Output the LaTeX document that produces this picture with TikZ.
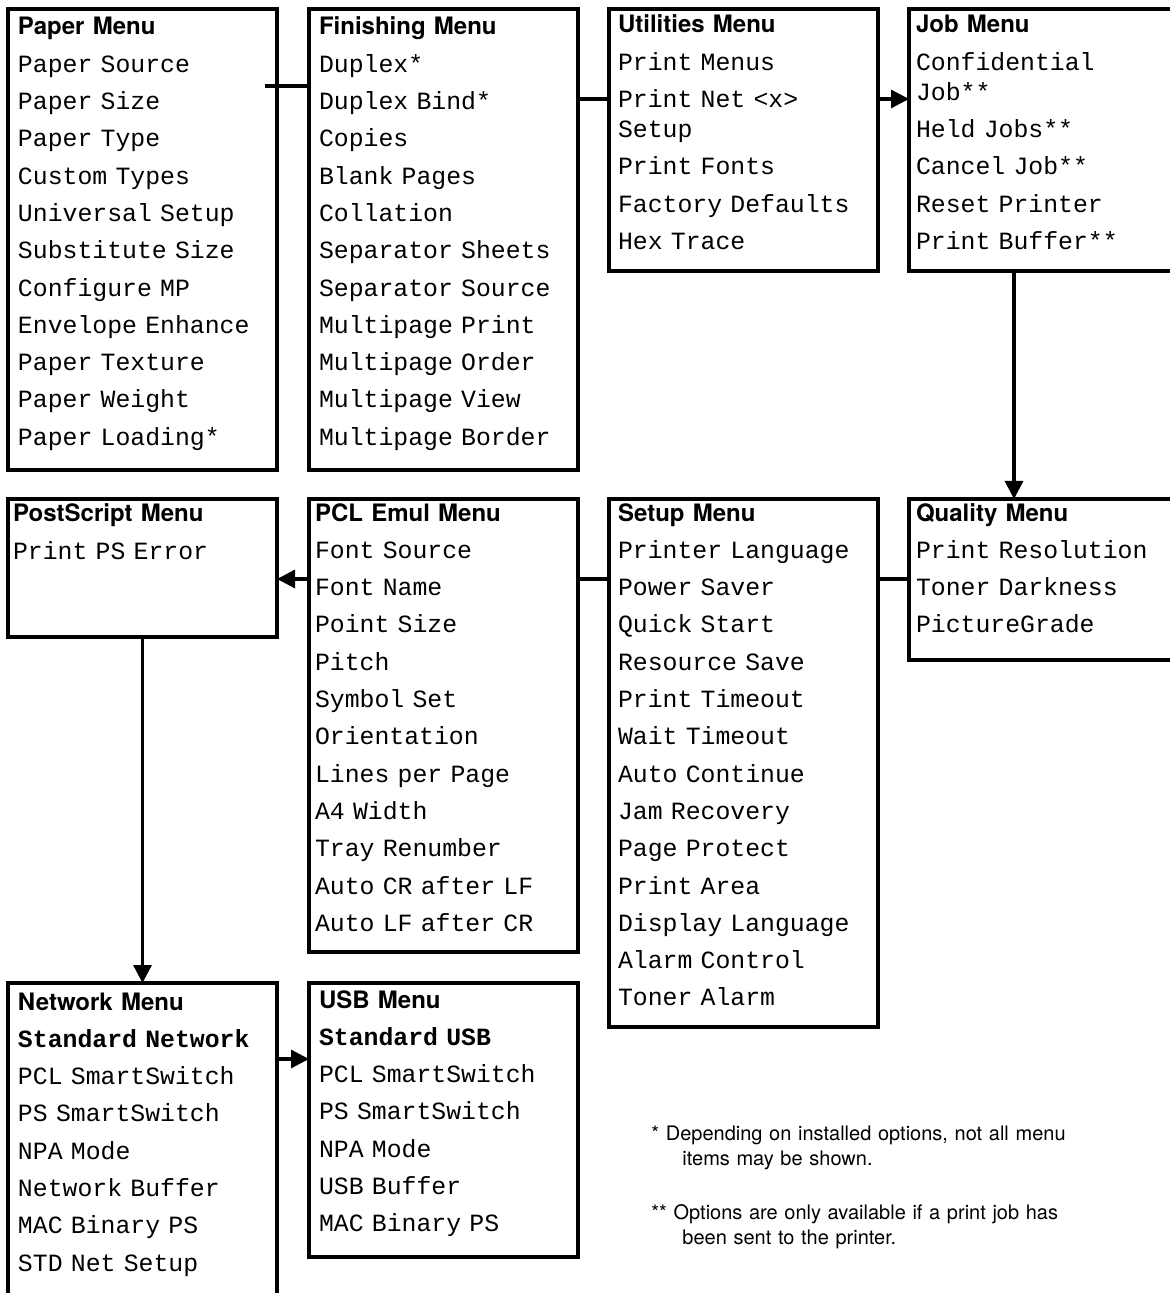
\documentclass[tikz,border=0pt]{standalone}
\usepackage{fontspec}
\usepackage{tikz}
\usetikzlibrary{arrows.meta, positioning, calc}
\setmonofont{Liberation Mono}
\newfontfamily\headfont{TeX Gyre Heros}
\newcommand{\mhead}[1]{{\headfont\bfseries\fontsize{12pt}{14pt}\selectfont #1}}

\begin{document}
\begin{tikzpicture}[x=0.5pt, y=-0.5pt,
    menu/.style={draw, line width=1.6pt, outer sep=0pt, anchor=north west, inner ysep=0pt, align=left,
                 font=\ttfamily\fontsize{12.4pt}{18.65pt}\selectfont},
    link/.style={line width=1.6pt},
    arr/.style={line width=1.6pt, -{Triangle[length=9pt, width=9pt]}},
    note/.style={anchor=base west, inner sep=0pt, align=left, text width=250pt,
                 font=\headfont\fontsize{10pt}{12.75pt}\selectfont}]
  \useasboundingbox (0,0) rectangle (1170,1293);

  % top row
  \node[menu, inner xsep=5pt, text width=124.5pt, text height=13pt, text depth=217.5pt] (paper) at (8,9)
    {\mhead{Paper Menu}\\ Paper Source\\ Paper Size\\ Paper Type\\ Custom Types\\ Universal Setup\\
     Substitute Size\\ Configure MP\\ Envelope Enhance\\ Paper Texture\\ Paper Weight\\ Paper Loading*};
  \node[menu, inner xsep=5pt, text width=124.5pt, text height=13pt, text depth=217.5pt] (finishing) at (309,9)
    {\mhead{Finishing Menu}\\ Duplex*\\ Duplex Bind*\\ Copies\\ Blank Pages\\ Collation\\
     Separator Sheets\\ Separator Source\\ Multipage Print\\ Multipage Order\\ Multipage View\\ Multipage Border};
  \node[menu, inner xsep=4.5pt, text width=125.5pt, text height=12pt, text depth=119pt] (utilities) at (609,9)
    {\mhead{Utilities Menu}\\ Print Menus\\ Print Net <x>\\[-3.65pt] Setup\\ Print Fonts\\ Factory Defaults\\ Hex Trace};
  \node[menu, inner xsep=3.5pt, text width=124.5pt, text height=12pt, text depth=119pt] (job) at (909,9)
    {\mhead{Job Menu}\\ Confidential\\[-3.65pt] Job**\\ Held Jobs**\\ Cancel Job**\\ Reset Printer\\ Print Buffer**};

  % middle row
  \node[menu, inner xsep=2.5pt, text width=129.5pt, text height=11.5pt, text depth=57.5pt] (postscript) at (8,499)
    {\mhead{PostScript Menu}\\ Print PS Error};
  \node[menu, inner xsep=3pt, text width=128.5pt, text height=11pt, text depth=215.5pt] (pcl) at (309,499)
    {\mhead{PCL Emul Menu}\\ Font Source\\ Font Name\\ Point Size\\ Pitch\\ Symbol Set\\ Orientation\\
     Lines per Page\\ A4 Width\\ Tray Renumber\\ Auto CR after LF\\ Auto LF after CR};
  \node[menu, inner xsep=4.5pt, text width=125.5pt, text height=11pt, text depth=253pt] (setup) at (609,499)
    {\mhead{Setup Menu}\\ Printer Language\\ Power Saver\\ Quick Start\\ Resource Save\\ Print Timeout\\
     Wait Timeout\\ Auto Continue\\ Jam Recovery\\ Page Protect\\ Print Area\\ Display Language\\
     Alarm Control\\ Toner Alarm};
  \node[menu, inner xsep=3.5pt, text width=124.5pt, text height=11pt, text depth=69.5pt] (quality) at (909,499)
    {\mhead{Quality Menu}\\ Print Resolution\\ Toner Darkness\\ PictureGrade};

  % bottom row
  \node[menu, inner xsep=5pt, text width=124.5pt, text height=13.5pt, text depth=145pt] (network) at (8,983)
    {\mhead{Network Menu}\\ {\bfseries Standard Network}\\ PCL SmartSwitch\\ PS SmartSwitch\\ NPA Mode\\
     Network Buffer\\ MAC Binary PS\\ STD Net Setup};
  \node[menu, inner xsep=5pt, text width=124.5pt, text height=12.5pt, text depth=124.5pt] (usb) at (309,983)
    {\mhead{USB Menu}\\ {\bfseries Standard USB}\\ PCL SmartSwitch\\ PS SmartSwitch\\ NPA Mode\\
     USB Buffer\\ MAC Binary PS};

  \node[note] (starnote) at (651,1140)
    {* Depending on installed options, not all menu\\ \hspace*{15.5pt}items may be shown.};
  \node[note] (dblnote) at (651,1219)
    {** Options are only available if a print job has\\ \hspace*{15.5pt}been sent to the printer.};

  % connectors
  \draw[link] ([xshift=-6pt, yshift=-38.5pt]paper.north east) -- ([yshift=-38.5pt]finishing.north west);
  \draw[link] ([yshift=-45pt]finishing.north east) -- ([yshift=-45pt]utilities.north west);
  \draw[arr] ([yshift=-45pt]utilities.north east) -- ([yshift=-45pt]job.north west);
  \draw[arr] ([xshift=52.5pt]job.south west) -- ([xshift=52.5pt]quality.north west);
  \draw[link] ([yshift=-40pt]quality.north west) -- ([yshift=-40pt]setup.north east);
  \draw[link] ([yshift=-40pt]setup.north west) -- ([yshift=-40pt]pcl.north east);
  \draw[arr] ([yshift=-40pt]pcl.north west) -- ([yshift=-40pt]postscript.north east);
  \draw[arr] (postscript.south) -- (network.north);
  \draw[arr] ([yshift=-38pt]network.north east) -- ([yshift=-38pt]usb.north west);
\end{tikzpicture}
\end{document}
